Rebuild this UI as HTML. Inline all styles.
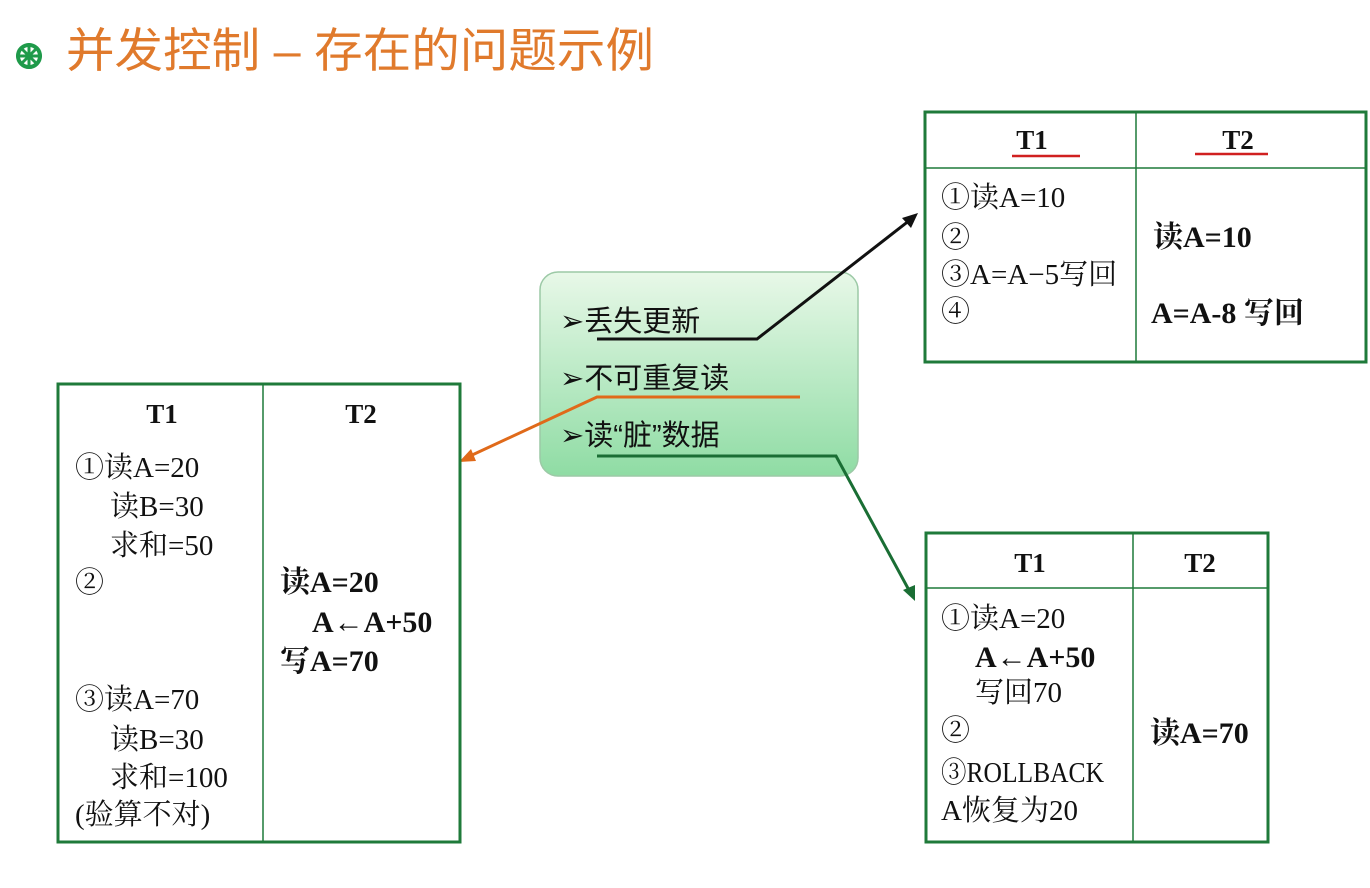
<!DOCTYPE html>
<html><head><meta charset="utf-8"><style>
html,body{margin:0;padding:0;background:#fff;}
svg{display:block;}
text{font-family:"Liberation Serif","Noto Serif CJK SC",serif;font-size:29px;fill:#111;}
.b{font-weight:bold;font-size:30px;}
.h{font-weight:bold;font-size:27px;}
.t{font-family:"Liberation Sans","Noto Sans CJK SC",sans-serif;font-size:47px;fill:#e07a2c;}
.g{font-family:"Liberation Sans","Noto Sans CJK SC",sans-serif;font-size:29px;}
</style></head><body>
<svg width="1370" height="888" viewBox="0 0 1370 888" xmlns="http://www.w3.org/2000/svg">
<defs>
<linearGradient id="gg" x1="0" y1="0" x2="0" y2="1"><stop offset="0" stop-color="#e8f8e8"/><stop offset="1" stop-color="#8fdca4"/></linearGradient>
</defs>
<g transform="translate(29,56)" fill="#1f9a4a">
<circle r="11" fill="none" stroke="#1f9a4a" stroke-width="4"/>
<circle r="4"/>
<g stroke="#1f9a4a" stroke-width="3"><line x1="-13" y1="0" x2="13" y2="0"/><line x1="0" y1="-13" x2="0" y2="13"/><line x1="-9" y1="-9" x2="9" y2="9"/><line x1="-9" y1="9" x2="9" y2="-9"/></g>
</g>
<text class="t" x="66" y="67" textLength="588" lengthAdjust="spacingAndGlyphs">并发控制 – 存在的问题示例</text>

<rect x="540" y="272" width="318" height="204" rx="18" fill="url(#gg)" stroke="#9cc9a6" stroke-width="1.5"/>
<text class="g" x="560" y="331">➢丢失更新</text>
<text class="g" x="560" y="388">➢不可重复读</text>
<text class="g" x="560" y="445">➢读“脏”数据</text>

<polyline points="597,339 757,339 910,220" fill="none" stroke="#111" stroke-width="3"/>
<polygon points="918,213 902,218 911,228" fill="#111"/>
<polyline points="800,397 597,397 470,456" fill="none" stroke="#e06a1a" stroke-width="3"/>
<polygon points="459,462 471,449 476,461" fill="#e06a1a"/>
<polyline points="597,456 836,456 910,592" fill="none" stroke="#1a6e34" stroke-width="3"/>
<polygon points="915,601 903,590 915,585" fill="#1a6e34"/>

<rect x="925" y="112" width="441" height="250" fill="#fff" stroke="#1f7a3a" stroke-width="3"/>
<line x1="1136" y1="112" x2="1136" y2="362" stroke="#1f7a3a" stroke-width="1.5"/>
<line x1="925" y1="168" x2="1366" y2="168" stroke="#1f7a3a" stroke-width="1.5"/>
<text class="h" x="1032" y="149" text-anchor="middle">T1</text>
<text class="h" x="1238" y="149" text-anchor="middle">T2</text>
<line x1="1012" y1="156" x2="1080" y2="156" stroke="#d02020" stroke-width="2.5"/>
<line x1="1195" y1="154" x2="1268" y2="154" stroke="#d02020" stroke-width="2.5"/>
<text x="941" y="207">①读A=10</text>
<text x="941" y="247">②</text>
<text x="941" y="284">③A=A−5写回</text>
<text x="941" y="321">④</text>
<text class="b" x="1153" y="247">读A=10</text>
<text class="b" x="1151" y="323">A=A-8 写回</text>

<rect x="58" y="384" width="402" height="458" fill="#fff" stroke="#1f7a3a" stroke-width="3"/>
<line x1="263" y1="384" x2="263" y2="842" stroke="#1f7a3a" stroke-width="1.5"/>
<text class="h" x="162" y="423" text-anchor="middle">T1</text>
<text class="h" x="361" y="423" text-anchor="middle">T2</text>
<text x="75" y="477">①读A=20</text>
<text x="110" y="516">读B=30</text>
<text x="110" y="555">求和=50</text>
<text x="75" y="592">②</text>
<text x="75" y="709">③读A=70</text>
<text x="110" y="749">读B=30</text>
<text x="110" y="787">求和=100</text>
<text x="75" y="824">(验算不对)</text>
<text class="b" x="280" y="592">读A=20</text>
<text class="b" x="312" y="632">A←A+50</text>
<text class="b" x="280" y="671">写A=70</text>

<rect x="926" y="533" width="342" height="309" fill="#fff" stroke="#1f7a3a" stroke-width="3"/>
<line x1="1133" y1="533" x2="1133" y2="842" stroke="#1f7a3a" stroke-width="1.5"/>
<line x1="926" y1="588" x2="1268" y2="588" stroke="#1f7a3a" stroke-width="1.5"/>
<text class="h" x="1030" y="572" text-anchor="middle">T1</text>
<text class="h" x="1200" y="572" text-anchor="middle">T2</text>
<text x="941" y="628">①读A=20</text>
<text class="b" x="975" y="667">A←A+50</text>
<text x="975" y="702">写回70</text>
<text x="941" y="740">②</text>
<text x="941" y="782" textLength="163" lengthAdjust="spacingAndGlyphs">③ROLLBACK</text>
<text x="941" y="820">A恢复为20</text>
<text class="b" x="1150" y="743">读A=70</text>
</svg>
</body></html>
